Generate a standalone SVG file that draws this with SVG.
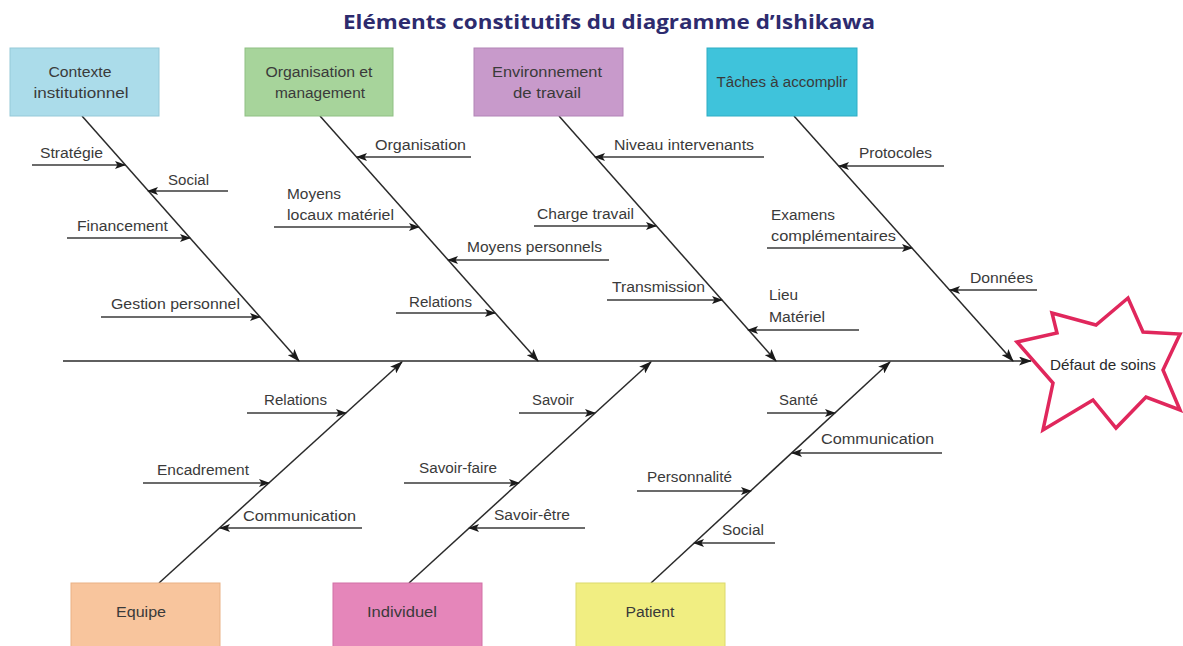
<svg xmlns="http://www.w3.org/2000/svg" width="1183" height="646" viewBox="0 0 1183 646">
<defs>
<marker id="ah" markerUnits="userSpaceOnUse" markerWidth="11" markerHeight="8" refX="10" refY="4" orient="auto"><path d="M0,0 L11,4 L0,8 L2.5,4 z" fill="#1a1a1a"/></marker>
<marker id="ahb" markerUnits="userSpaceOnUse" markerWidth="13" markerHeight="9" refX="12" refY="4.5" orient="auto"><path d="M0,0 L13,4.5 L0,9 L3,4.5 z" fill="#1a1a1a"/></marker>
</defs>
<style>
.box{stroke-width:1}
.bt{font-family:"Liberation Sans",Arial,sans-serif;font-size:15.5px;fill:#3a3a3a;text-anchor:middle}
.lb{font-family:"Liberation Sans",Arial,sans-serif;font-size:15.5px;fill:#3a3a3a}
.bone{stroke:#2a2a2a;stroke-width:1.5;fill:none;marker-end:url(#ahb)}
.sub{stroke:#3a3a3a;stroke-width:1.5;fill:none;marker-end:url(#ah)}
.title{font-family:"Open Sans","Liberation Sans",sans-serif;font-size:20px;font-weight:bold;fill:#2d2b6e;text-anchor:middle}
</style>
<rect width="1183" height="646" fill="#ffffff"/>
<text class="title" x="609" y="29" textLength="532" lengthAdjust="spacingAndGlyphs">Eléments constitutifs du diagramme d’Ishikawa</text>

<g id="connectors">
<line class="bone" x1="63" y1="361" x2="1031" y2="361"/>
<line class="bone" x1="82" y1="116" x2="299" y2="361"/>
<line class="bone" x1="320" y1="116" x2="538" y2="361"/>
<line class="bone" x1="559" y1="116" x2="776" y2="361"/>
<line class="bone" x1="794" y1="116" x2="1013" y2="361"/>
<line class="bone" x1="159" y1="583" x2="402" y2="362"/>
<line class="bone" x1="409" y1="583" x2="651" y2="362"/>
<line class="bone" x1="651" y1="583" x2="890" y2="362"/>

<line class="sub" x1="32" y1="165" x2="125" y2="165"/>
<line class="sub" x1="228" y1="191" x2="148" y2="191"/>
<line class="sub" x1="67" y1="238" x2="190" y2="238"/>
<line class="sub" x1="101" y1="317" x2="260" y2="317"/>
<line class="sub" x1="471" y1="157" x2="357" y2="157"/>
<line class="sub" x1="274" y1="227" x2="419" y2="227"/>
<line class="sub" x1="609" y1="260" x2="448" y2="260"/>
<line class="sub" x1="396" y1="313" x2="495" y2="313"/>
<line class="sub" x1="764" y1="157" x2="595" y2="157"/>
<line class="sub" x1="534" y1="226" x2="656" y2="226"/>
<line class="sub" x1="607" y1="300" x2="722" y2="300"/>
<line class="sub" x1="859" y1="330" x2="748" y2="330"/>
<line class="sub" x1="944" y1="166" x2="839" y2="166"/>
<line class="sub" x1="767" y1="248" x2="912" y2="248"/>
<line class="sub" x1="1037" y1="290" x2="950" y2="290"/>
<line class="sub" x1="247" y1="413" x2="346" y2="413"/>
<line class="sub" x1="143" y1="483" x2="269" y2="483"/>
<line class="sub" x1="362" y1="528" x2="220" y2="528"/>
<line class="sub" x1="519" y1="413" x2="595" y2="413"/>
<line class="sub" x1="404" y1="483" x2="519" y2="483"/>
<line class="sub" x1="585" y1="528" x2="469" y2="528"/>
<line class="sub" x1="767" y1="413" x2="835" y2="413"/>
<line class="sub" x1="942" y1="453" x2="792" y2="453"/>
<line class="sub" x1="637" y1="491" x2="751" y2="491"/>
<line class="sub" x1="775" y1="543" x2="694" y2="543"/>
</g>

<g id="contexte">
<rect class="box" x="10" y="48" width="149" height="68" fill="#abdcea" stroke="#95c9d8"/>
<text class="bt" x="80" y="77" textLength="63" lengthAdjust="spacingAndGlyphs">Contexte</text>
<text class="bt" x="81" y="98" textLength="95" lengthAdjust="spacingAndGlyphs">institutionnel</text>
</g>
<g id="organisation">
<rect class="box" x="245" y="48" width="148" height="68" fill="#a7d49b" stroke="#8fc083"/>
<text class="bt" x="319" y="77" textLength="107" lengthAdjust="spacingAndGlyphs">Organisation et</text>
<text class="bt" x="320" y="98" textLength="90" lengthAdjust="spacingAndGlyphs">management</text>
</g>
<g id="environnement">
<rect class="box" x="474" y="48" width="149" height="68" fill="#c89acb" stroke="#b283b6"/>
<text class="bt" x="547" y="77" textLength="110" lengthAdjust="spacingAndGlyphs">Environnement</text>
<text class="bt" x="547" y="98" textLength="68" lengthAdjust="spacingAndGlyphs">de travail</text>
</g>
<g id="taches">
<rect class="box" x="707" y="48" width="150" height="68" fill="#3fc3db" stroke="#2eadc4"/>
<text class="bt" x="782" y="87" textLength="131" lengthAdjust="spacingAndGlyphs">Tâches à accomplir</text>
</g>
<g id="equipe">
<rect class="box" x="71" y="583" width="149" height="70" fill="#f8c59d" stroke="#e9b185"/>
<text class="bt" x="141" y="617" textLength="50" lengthAdjust="spacingAndGlyphs">Equipe</text>
</g>
<g id="individuel">
<rect class="box" x="333" y="583" width="149" height="70" fill="#e586ba" stroke="#d270a6"/>
<text class="bt" x="402" y="617" textLength="70" lengthAdjust="spacingAndGlyphs">Individuel</text>
</g>
<g id="patient">
<rect class="box" x="576" y="583" width="149" height="70" fill="#f1ee82" stroke="#dcd96c"/>
<text class="bt" x="650" y="617" textLength="49" lengthAdjust="spacingAndGlyphs">Patient</text>
</g>
<g id="defaut">
<polygon points="1017,342 1057,333 1052,313 1096,325 1128,298 1143,332 1180,334 1163,370 1180,410 1146,397 1116,428 1093,400 1043,430 1053,383" fill="#ffffff" stroke="#e0275c" stroke-width="3.5" stroke-linejoin="miter"/>
<text class="bt" x="1103" y="370" textLength="106" lengthAdjust="spacingAndGlyphs" style="fill:#2a2a2a;font-size:14.5px">Défaut de soins</text>
</g>

<g id="sous-causes">
<text class="lb" x="40" y="158" textLength="63" lengthAdjust="spacingAndGlyphs">Stratégie</text>
<text class="lb" x="168" y="185" textLength="41" lengthAdjust="spacingAndGlyphs">Social</text>
<text class="lb" x="77" y="231" textLength="91" lengthAdjust="spacingAndGlyphs">Financement</text>
<text class="lb" x="111" y="309" textLength="129" lengthAdjust="spacingAndGlyphs">Gestion personnel</text>
<text class="lb" x="375" y="150" textLength="91" lengthAdjust="spacingAndGlyphs">Organisation</text>
<text class="lb" x="287" y="199" textLength="54" lengthAdjust="spacingAndGlyphs">Moyens</text>
<text class="lb" x="287" y="220" textLength="107" lengthAdjust="spacingAndGlyphs">locaux matériel</text>
<text class="lb" x="467" y="252" textLength="135" lengthAdjust="spacingAndGlyphs">Moyens personnels</text>
<text class="lb" x="409" y="307" textLength="63" lengthAdjust="spacingAndGlyphs">Relations</text>
<text class="lb" x="614" y="150" textLength="140" lengthAdjust="spacingAndGlyphs">Niveau intervenants</text>
<text class="lb" x="537" y="219" textLength="97" lengthAdjust="spacingAndGlyphs">Charge travail</text>
<text class="lb" x="612" y="292" textLength="93" lengthAdjust="spacingAndGlyphs">Transmission</text>
<text class="lb" x="769" y="300" textLength="29" lengthAdjust="spacingAndGlyphs">Lieu</text>
<text class="lb" x="769" y="322" textLength="56" lengthAdjust="spacingAndGlyphs">Matériel</text>
<text class="lb" x="859" y="158" textLength="73" lengthAdjust="spacingAndGlyphs">Protocoles</text>
<text class="lb" x="771" y="220" textLength="64" lengthAdjust="spacingAndGlyphs">Examens</text>
<text class="lb" x="771" y="241" textLength="125" lengthAdjust="spacingAndGlyphs">complémentaires</text>
<text class="lb" x="970" y="283" textLength="63" lengthAdjust="spacingAndGlyphs">Données</text>
<text class="lb" x="264" y="405" textLength="63" lengthAdjust="spacingAndGlyphs">Relations</text>
<text class="lb" x="157" y="475" textLength="92" lengthAdjust="spacingAndGlyphs">Encadrement</text>
<text class="lb" x="243" y="521" textLength="113" lengthAdjust="spacingAndGlyphs">Communication</text>
<text class="lb" x="532" y="405" textLength="42" lengthAdjust="spacingAndGlyphs">Savoir</text>
<text class="lb" x="419" y="473" textLength="78" lengthAdjust="spacingAndGlyphs">Savoir-faire</text>
<text class="lb" x="494" y="520" textLength="76" lengthAdjust="spacingAndGlyphs">Savoir-être</text>
<text class="lb" x="779" y="405" textLength="39" lengthAdjust="spacingAndGlyphs">Santé</text>
<text class="lb" x="821" y="444" textLength="113" lengthAdjust="spacingAndGlyphs">Communication</text>
<text class="lb" x="647" y="482" textLength="85" lengthAdjust="spacingAndGlyphs">Personnalité</text>
<text class="lb" x="722" y="535" textLength="42" lengthAdjust="spacingAndGlyphs">Social</text>
</g>
</svg>
